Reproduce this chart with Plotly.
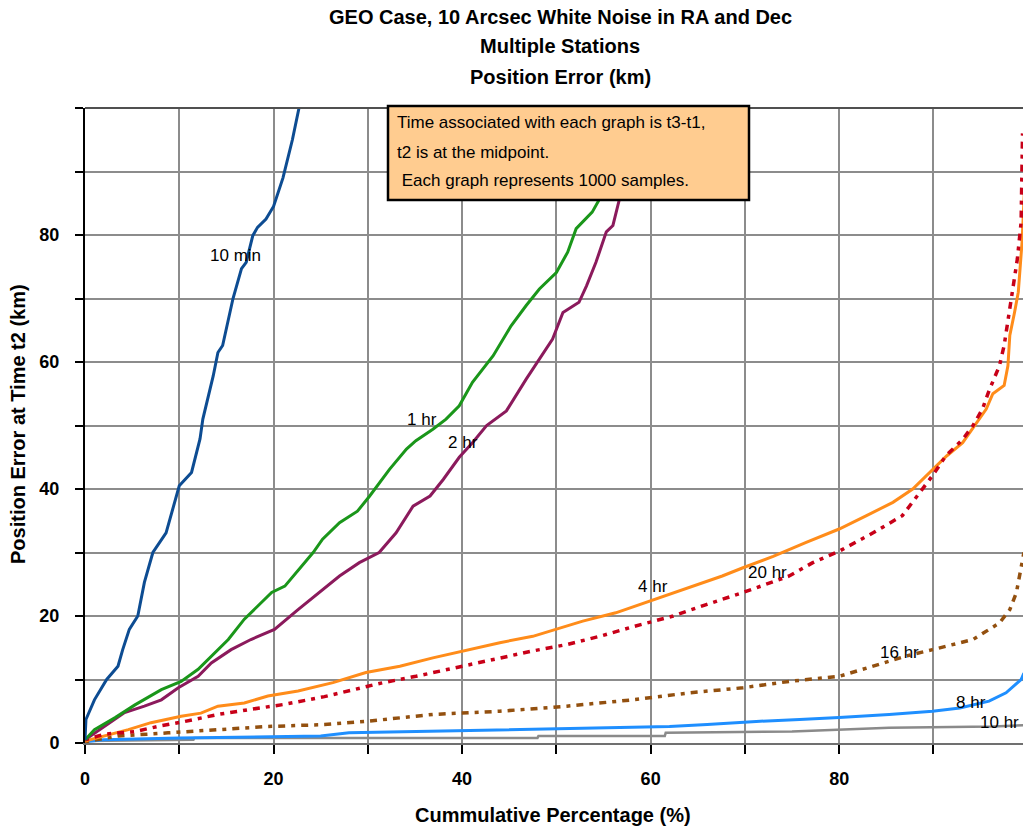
import plotly.graph_objects as go

# ---------------- data ----------------
x_10min = [0, 0.1, 1.0, 2.3, 3.5, 4.0, 4.7, 5.6, 6.3, 7.2, 8.6, 9.3, 10.0, 11.3, 12.2, 12.5, 13.6, 14.1,
           14.6, 15.7, 16.6, 17.1, 17.8, 18.3, 19.2, 20.0, 21.0, 22.0, 22.7]
y_10min = [0.5, 3.7, 6.8, 10.0, 12.1, 14.7, 17.9, 20.0, 25.3, 30.0, 33.1, 36.8, 40.5, 42.6, 47.9, 51.0, 57.8,
           61.5, 62.6, 70.0, 74.7, 75.7, 79.9, 81.2, 82.5, 84.5, 89.0, 95.0, 100.0]

x_1hr = [0, 1.0, 3.2, 5.3, 8.1, 10.2, 12.0, 13.4, 15.2, 16.9, 19.8, 21.2, 22.7, 24.2, 25.2, 27.0, 28.9, 30.2,
         32.3, 34.1, 35.1, 36.9, 38.3, 39.7, 41.1, 43.3, 45.2, 46.8, 48.2, 50.0, 51.2, 52.1, 53.8, 54.6, 55.6, 56.4]
y_1hr = [0.5, 2.1, 4.0, 6.0, 8.4, 9.7, 11.6, 13.7, 16.3, 19.5, 23.7, 24.7, 27.3, 30.0, 32.1, 34.7, 36.5, 38.9,
         43.1, 46.3, 47.6, 49.4, 51.0, 53.1, 56.8, 61.0, 65.7, 68.9, 71.5, 74.1, 77.3, 81.0, 83.6, 85.7, 92.0, 100.0]

x_2hr = [0, 2.1, 4.2, 6.3, 8.1, 9.9, 12.0, 13.4, 15.5, 17.6, 20.1, 22.6, 24.9, 27.0, 29.1, 31.2, 33.0, 34.8,
         36.6, 38.0, 39.7, 41.1, 42.6, 44.7, 46.8, 48.2, 49.6, 50.7, 52.4, 53.2, 54.2, 55.3, 56.0, 56.7, 57.4, 58.0]
y_2hr = [0.5, 2.6, 4.8, 5.8, 6.8, 8.7, 10.5, 12.6, 14.7, 16.3, 17.9, 21.0, 23.7, 26.3, 28.4, 30.0, 33.1, 37.3,
         38.9, 41.5, 45.0, 47.3, 50.0, 52.3, 57.3, 60.5, 63.6, 67.8, 69.4, 72.0, 75.7, 80.5, 81.5, 85.7, 92.0, 100.0]

x_4hr = [0, 2.1, 4.6, 7.0, 10.2, 12.3, 14.1, 16.9, 19.4, 22.6, 26.3, 29.8, 33.4, 36.9, 40.0, 44.0, 47.5, 50.0,
         52.8, 56.3, 60.0, 64.1, 67.6, 69.8, 73.0, 76.5, 80.0, 82.9, 85.7, 87.8, 89.9, 91.4, 93.1, 94.4, 95.6,
         96.3, 97.5, 97.9, 98.1, 98.6, 99.0, 99.4, 99.9]
y_4hr = [0.3, 1.1, 2.1, 3.2, 4.2, 4.7, 5.8, 6.3, 7.4, 8.2, 9.5, 11.1, 12.1, 13.4, 14.5, 15.8, 16.8, 17.9,
         19.2, 20.5, 22.4, 24.5, 26.3, 27.6, 29.4, 31.6, 33.7, 35.8, 37.9, 40.0, 43.1, 45.2, 47.3, 50.0, 52.6,
         55.0, 56.3, 59.4, 64.2, 67.8, 71.0, 78.9, 95.0]

x_20hr = [0, 2.1, 5.3, 7.7, 10.6, 14.1, 17.6, 21.2, 25.4, 31.6, 35.1, 40.0, 44.0, 47.5, 51.1, 54.6, 58.1, 62.4,
          65.9, 69.8, 74.7, 77.2, 80.0, 83.6, 86.7, 88.5, 89.9, 91.3, 93.1, 94.2, 95.2, 95.9, 97.0, 97.5, 98.2,
          98.9, 99.3, 99.45]
y_20hr = [0.5, 1.4, 1.8, 2.6, 3.4, 4.5, 5.3, 6.1, 7.3, 9.5, 10.5, 12.1, 13.4, 14.5, 15.5, 16.8, 18.3, 20.0,
          21.8, 23.7, 26.3, 28.4, 30.2, 33.1, 35.8, 39.4, 42.1, 45.2, 47.8, 50.0, 52.6, 55.5, 59.4, 62.6, 69.4,
          76.2, 82.0, 96.0]

x_16hr = [0, 3.5, 8.8, 14.1, 19.4, 25.4, 29.8, 36.9, 44.0, 51.1, 58.1, 64.1, 69.8, 74.7, 80.0, 83.6, 87.1,
          89.9, 94.2, 97.0, 98.1, 98.8, 99.3, 99.6]
y_16hr = [0.2, 1.1, 1.6, 2.1, 2.6, 2.9, 3.4, 4.5, 5.0, 5.8, 6.8, 7.9, 8.7, 9.7, 10.5, 12.1, 13.7,
          14.7, 16.3, 18.9, 21.0, 23.7, 27.4, 30.0]

x_8hr = [0, 2, 10, 25, 28, 35, 45, 55, 62, 66, 71.2, 75.8, 80.0, 85.3, 89.9, 92.8, 95.9, 97.7, 99.3, 99.6]
y_8hr = [0.2, 0.5, 0.8, 1.1, 1.6, 1.8, 2.1, 2.4, 2.6, 2.9, 3.4, 3.7, 4.0, 4.5, 5.0, 5.5, 6.6, 7.9, 10.0, 11.0]

x_10hr = [0, 11.5, 11.6, 48, 48.1, 61.5, 61.6, 75, 85.3, 96.3, 99.6]
y_10hr = [0.3, 0.5, 0.8, 0.8, 1.1, 1.1, 1.6, 1.8, 2.4, 2.6, 2.8]

label_text = ["10 min", "1 hr", "2 hr", "4 hr", "20 hr", "16 hr", "8 hr", "10 hr"]
label_x = [16.0, 35.7, 40.1, 60.3, 72.4, 86.4, 94.0, 99.3]
label_y = [76.8, 50.9, 47.3, 24.7, 26.8, 14.2, 6.45, 3.3]
label_anchor = ["center", "center", "center", "center", "center", "center", "center", "right"]

x_tickvals = [0, 10, 20, 30, 40, 50, 60, 70, 80, 90, 100]
x_ticktext = ["0", "", "20", "", "40", "", "60", "", "80", "", ""]
y_tickvals = [0, 10, 20, 30, 40, 50, 60, 70, 80, 90, 100]
y_ticktext = ["0", "", "20", "", "40", "", "60", "", "80", "", ""]

title_lines = ["GEO Case, 10 Arcsec White Noise in RA and Dec", "Multiple Stations", "Position Error (km)"]
note_lines = ["Time associated with each graph is t3-t1,", "t2 is at the midpoint.",
              "&nbsp;Each graph represents 1000 samples."]

# ---------------- figure ----------------
W, H = 1023, 831
ML, MR, MT, MB = 85, 0, 108, 88
PW, PH = W - ML - MR, H - MT - MB


def px(xp):
    return (xp - ML) / PW


def py(yp):
    return (H - MB - yp) / PH


FONT = "Liberation Sans, Arial, sans-serif"

series = [
    ("10 hr", x_10hr, y_10hr, "#8a8a8a", "solid", 2.5),
    ("8 hr", x_8hr, y_8hr, "#1f8fff", "solid", 3),
    ("16 hr", x_16hr, y_16hr, "#93500f", "4px,6px,7px,6px", 3.5),
    ("4 hr", x_4hr, y_4hr, "#ff8c1a", "solid", 3),
    ("20 hr", x_20hr, y_20hr, "#c80018", "4px,6px,7px,6px", 3.5),
    ("2 hr", x_2hr, y_2hr, "#8b1a5c", "solid", 3),
    ("1 hr", x_1hr, y_1hr, "#1a961a", "solid", 3),
    ("10 min", x_10min, y_10min, "#0d4c92", "solid", 3),
]

fig = go.Figure()
for name, xs, ys, col, dash, w in series:
    fig.add_trace(go.Scatter(x=xs, y=ys, mode="lines", name=name,
                             line=dict(color=col, width=w, dash=dash), showlegend=False))

annotations = []
for t, lx, ly, anc in zip(label_text, label_x, label_y, label_anchor):
    annotations.append(dict(x=lx, y=ly, xref="x", yref="y", text=t, showarrow=False,
                            font=dict(family=FONT, size=17, color="black"),
                            xanchor=anc, yanchor="middle"))

title_y = [17, 46, 77]
for t, ty in zip(title_lines, title_y):
    annotations.append(dict(x=px(560), y=py(ty), xref="paper", yref="paper", text="<b>" + t + "</b>",
                            showarrow=False, font=dict(family=FONT, size=20, color="black"),
                            xanchor="center", yanchor="middle"))

note_y = [123, 152, 180]
for t, ny in zip(note_lines, note_y):
    annotations.append(dict(x=px(395), y=py(ny), xref="paper", yref="paper", text=t,
                            showarrow=False, font=dict(family=FONT, size=17, color="black"),
                            xanchor="left", yanchor="middle"))

annotations.append(dict(x=px(553), y=py(815), xref="paper", yref="paper",
                        text="<b>Cummulative Percentage (%)</b>", showarrow=False,
                        font=dict(family=FONT, size=20, color="black"), xanchor="center", yanchor="middle"))
annotations.append(dict(x=px(18), y=py(424), xref="paper", yref="paper",
                        text="<b>Position Error at Time t2 (km)</b>", showarrow=False, textangle=-90,
                        font=dict(family=FONT, size=20, color="black"), xanchor="center", yanchor="middle"))

shapes = [
    dict(type="line", xref="paper", yref="paper", x0=0, x1=1, y0=1, y1=1,
         line=dict(color="#505050", width=2), layer="above"),
    dict(type="rect", xref="paper", yref="paper", x0=px(388), x1=px(749), y0=py(200), y1=py(106),
         fillcolor="#ffcc90", line=dict(color="black", width=2.5), layer="above"),
]

fig.update_layout(
    width=W, height=H,
    margin=dict(l=ML, r=MR, t=MT, b=MB),
    paper_bgcolor="white", plot_bgcolor="white",
    font=dict(family=FONT, color="black"),
    annotations=annotations,
    shapes=shapes,
    xaxis=dict(range=[0, 99.5], tickmode="array", tickvals=x_tickvals, ticktext=x_ticktext,
               showgrid=True, gridcolor="#8c8c8c", gridwidth=2, zeroline=False,
               showline=True, linecolor="#707070", linewidth=2,
               ticks="outside", ticklen=9, tickwidth=2, tickcolor="black",
               tickfont=dict(family=FONT, size=18, color="black", weight="bold"),
               ticklabelstandoff=9),
    yaxis=dict(range=[0, 100], tickmode="array", tickvals=y_tickvals, ticktext=y_ticktext,
               showgrid=True, gridcolor="#8c8c8c", gridwidth=2, zeroline=False,
               showline=True, linecolor="black", linewidth=2,
               ticks="outside", ticklen=8, tickwidth=2, tickcolor="black",
               tickfont=dict(family=FONT, size=18, color="black", weight="bold"),
               ticklabelstandoff=12),
)

fig.write_html("out.html")
